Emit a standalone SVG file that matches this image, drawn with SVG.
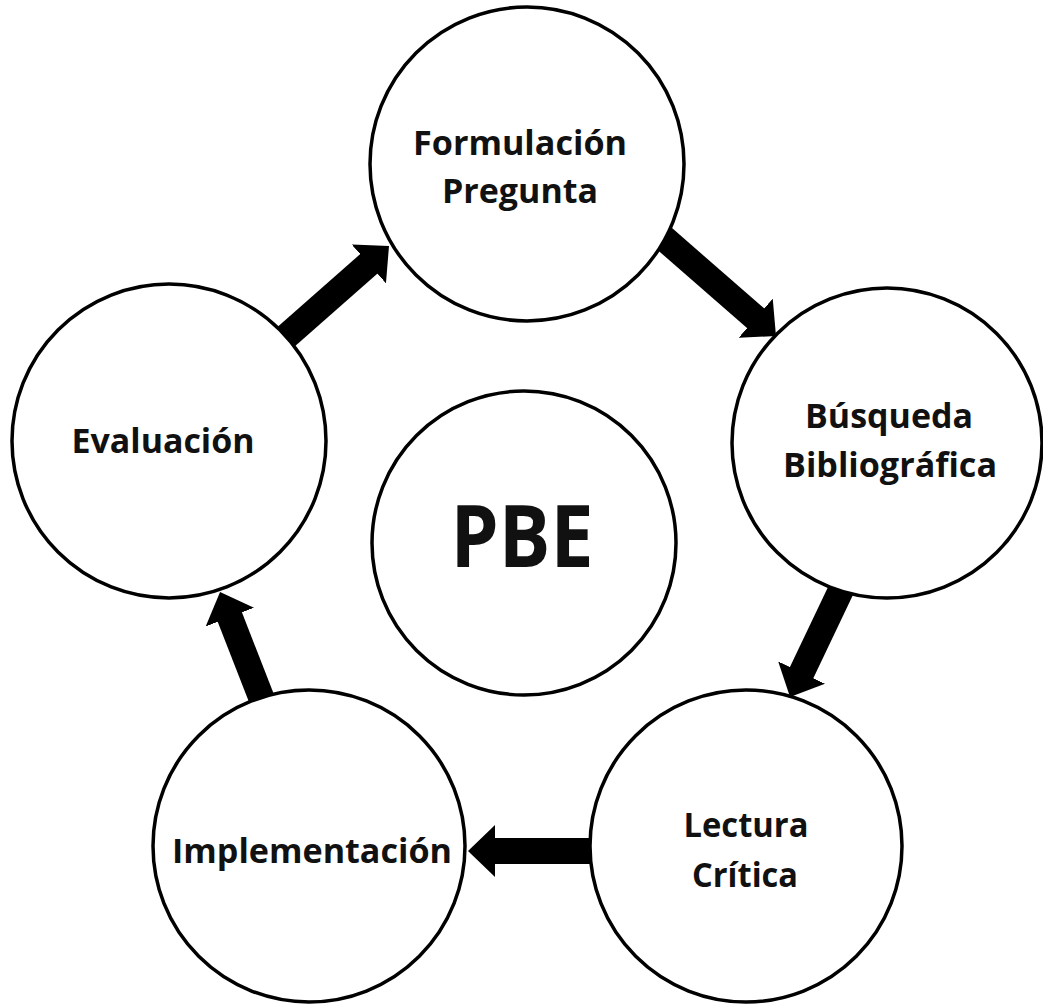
<svg xmlns="http://www.w3.org/2000/svg" width="1043" height="1005" viewBox="0 0 1043 1005">
<style>
.node circle{fill:#fff;stroke:#000;stroke-width:3.5}
.node text{font-family:"Open Sans","Noto Sans","DejaVu Sans",sans-serif;font-weight:bold;font-size:34px;fill:#111;text-anchor:middle}
.conn line{stroke:#000;stroke-width:26;stroke-linecap:butt}
</style>
<defs>
<marker id="head" markerUnits="userSpaceOnUse" markerWidth="27" markerHeight="52" viewBox="0 0 27 52" refX="1" refY="26" orient="auto">
<path d="M0,0 L27,26 L0,52 Z" fill="#000"/>
</marker>
</defs>
<rect width="1043" height="1005" fill="#fff"/>
<g id="connectors" class="conn">
<line x1="659.5" y1="234.4" x2="756.4" y2="318.9" marker-end="url(#head)"/>
<line x1="844.3" y1="583" x2="801.2" y2="673.5" marker-end="url(#head)"/>
<line x1="600" y1="851" x2="494" y2="851" marker-end="url(#head)"/>
<line x1="264.6" y1="706.3" x2="229.5" y2="616.2" marker-end="url(#head)"/>
<line x1="279.5" y1="342.6" x2="369.5" y2="263.2" marker-end="url(#head)"/>
</g>
<g id="formulacion" class="node">
<circle cx="527" cy="164" r="157"/>
<text x="520" y="155" textLength="214" lengthAdjust="spacingAndGlyphs">Formulación</text>
<text x="520" y="203" textLength="156" lengthAdjust="spacingAndGlyphs">Pregunta</text>
</g>
<g id="busqueda" class="node">
<circle cx="887" cy="443" r="155"/>
<text x="889" y="428" textLength="168" lengthAdjust="spacingAndGlyphs">Búsqueda</text>
<text x="890" y="477" textLength="214" lengthAdjust="spacingAndGlyphs">Bibliográfica</text>
</g>
<g id="lectura" class="node">
<circle cx="746" cy="846" r="156"/>
<text x="746" y="837" textLength="125" lengthAdjust="spacingAndGlyphs">Lectura</text>
<text x="745" y="887" textLength="106" lengthAdjust="spacingAndGlyphs">Crítica</text>
</g>
<g id="implementacion" class="node">
<circle cx="309" cy="846" r="156"/>
<text x="312" y="863" textLength="280" lengthAdjust="spacingAndGlyphs">Implementación</text>
</g>
<g id="evaluacion" class="node">
<circle cx="169" cy="441" r="157"/>
<text x="163" y="453" textLength="183" lengthAdjust="spacingAndGlyphs">Evaluación</text>
</g>
<g id="pbe" class="node">
<circle cx="524" cy="543" r="152"/>
<text x="522" y="567" style="font-size:86px" textLength="143" lengthAdjust="spacingAndGlyphs">PBE</text>
</g>
</svg>
